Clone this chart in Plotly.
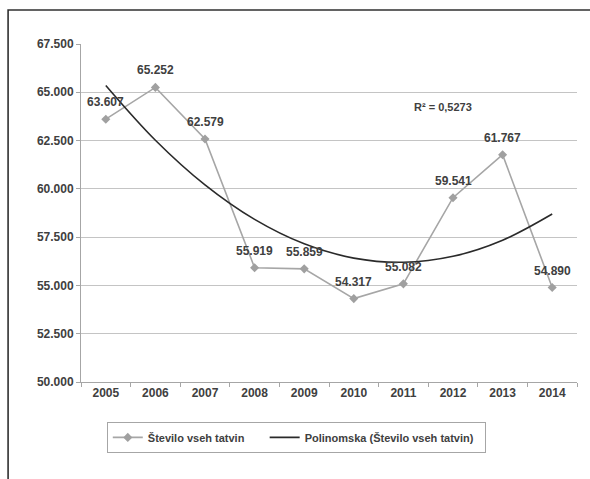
import plotly.graph_objects as go

years = ["2005", "2006", "2007", "2008", "2009", "2010", "2011", "2012", "2013", "2014"]
thefts = [63607, 65252, 62579, 55919, 55859, 54317, 55082, 59541, 61767, 54890]
thefts_labels = ["63.607", "65.252", "62.579", "55.919", "55.859", "54.317", "55.082", "59.541", "61.767", "54.890"]
# polynomial (order 2) trendline values
trend = [65356, 62519, 60207, 58419, 57155, 56415, 56199, 56507, 57340, 58697]
y_ticks = [50000, 52500, 55000, 57500, 60000, 62500, 65000, 67500]
y_tick_labels = ["50.000", "52.500", "55.000", "57.500", "60.000", "62.500", "65.000", "67.500"]
r2_text = "R\u00b2 = 0,5273"
series_name = "Število vseh tatvin"
trend_name = "Polinomska (Število vseh tatvin)"

FONT = "Liberation Sans"
TXT = "#404040"

fig = go.Figure()
fig.add_trace(go.Scatter(
    x=years, y=thefts, mode="lines+markers", name=series_name + "\u00a0" * 5,
    line=dict(color="#a6a6a6", width=1.6),
    marker=dict(symbol="diamond", size=7, color="#a0a0a0"),
))
fig.add_trace(go.Scatter(
    x=years, y=trend, mode="lines", name=trend_name + "\u00a0" * 2,
    line=dict(color="#2a2a2a", width=1.6, shape="spline"),
))

annotations = []
for i, (v, lab) in enumerate(zip(thefts, thefts_labels)):
    annotations.append(dict(x=i, y=v, xref="x", yref="y", text="<b>%s</b>" % lab, showarrow=False,
                            xanchor="center", yanchor="middle",
                            yshift=17, font=dict(family=FONT, size=12, color=TXT)))
annotations.append(dict(x=0.73, y=0.8136, xref="paper", yref="paper", text="<b>%s</b>" % r2_text,
                        xanchor="center", yanchor="middle",
                        showarrow=False, font=dict(family=FONT, size=11, color=TXT)))

fig.update_layout(
    annotations=annotations,
    width=590, height=479,
    margin=dict(l=81, r=13, t=44, b=97),
    paper_bgcolor="white", plot_bgcolor="white",
    font=dict(family=FONT, size=12, color=TXT),
    showlegend=True,
    legend=dict(orientation="h", x=0.052, y=-0.118, xanchor="left", yanchor="top",
                bordercolor="#a6a6a6", borderwidth=1,
                font=dict(family=FONT, size=11, color=TXT, weight="bold")),
    shapes=[dict(type="rect", xref="paper", yref="paper", x0=-0.147, x1=1.2, y0=-0.5, y1=1.1006,
                 line=dict(color="#303030", width=1.6))],
)
fig.update_xaxes(type="category", tickson="boundaries", ticks="outside", ticklen=4,
                 tickcolor="#a6a6a6", showline=True, linecolor="#a6a6a6", linewidth=1,
                 showgrid=False, tickfont=dict(family=FONT, size=12, color=TXT, weight="bold"),
                 range=[-0.5, 9.5])
fig.update_yaxes(range=[50000, 67500], tickvals=y_ticks, ticktext=y_tick_labels,
                 ticks="outside", ticklen=4, tickcolor="#a6a6a6", showline=True,
                 linecolor="#a6a6a6", linewidth=1, gridcolor="#c4c4c4", gridwidth=1,
                 zeroline=False, tickfont=dict(family=FONT, size=12, color=TXT, weight="bold"))

fig.write_html("out.html", config={"displayModeBar": False},
               post_script="document.body.style.margin='0';document.body.style.overflow='hidden';")
